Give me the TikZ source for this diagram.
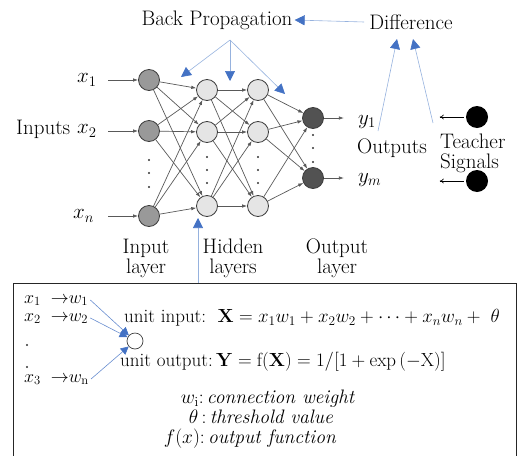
\RequirePackage{fix-cm}
\documentclass[tikz,border=0pt]{standalone}
\usepackage{amsmath}
\usetikzlibrary{arrows.meta,calc}
\definecolor{bpblue}{RGB}{68,114,196}
\definecolor{bpline}{RGB}{150,178,222}
\definecolor{ringgray}{RGB}{60,60,60}
\tikzset{
    neuron/.style={circle,draw=ringgray,line width=0.8pt,minimum size=21pt,inner sep=0pt},
    inunit/.style={neuron,fill=black!40},
    hidunit/.style={neuron,fill=black!10},
    outunit/.style={neuron,fill=black!68},
    link/.style={-{Latex[length=5pt,width=3.5pt]},draw=black!65,line width=0.7pt},
    bpvec/.style={-{Triangle[length=10pt,width=10pt,color=bpblue]},draw=bpline,line width=0.6pt},
    smallvec/.style={-{Triangle[length=8pt,width=8pt,color=bpblue]},draw=bpblue!80,line width=0.6pt},
    teachdot/.style={circle,fill=black,minimum size=22pt,inner sep=0pt},
    lbl/.style={font=\fontsize{21}{20}\selectfont,align=center,inner sep=0pt},
    boxtxt/.style={font=\fontsize{19}{18}\selectfont,inner sep=0pt,text height=10pt,text depth=3pt},
    wtxt/.style={font=\fontsize{18}{18}\selectfont,inner sep=0pt,text height=9pt,text depth=3pt},
    notetxt/.style={font=\fontsize{19.5}{18}\selectfont,inner sep=0pt,text height=11pt,text depth=4pt},
    dotmark/.style={fill=black!80}
}

\begin{document}
\begin{tikzpicture}[x=1pt,y=-1pt]
    \useasboundingbox (0,0) rectangle (518,455);
    \clip (0,0) rectangle (518,455);
    % Layers
    \node[inunit] (i1) at (149,80) {};
    \node[inunit] (i2) at (149,131) {};
    \node[inunit] (i3) at (149,216) {};
    \foreach \n/\y in {1/90,2/132,3/206}{
        \node[hidunit] (h\n) at (207,\y) {};
        \node[hidunit] (g\n) at (258,\y) {};
    }
    \node[outunit] (o1) at (313,118) {};
    \node[outunit] (o2) at (313,178) {};
    % Connections
    \foreach \a in {1,2,3}{
        \foreach \b in {1,2,3}{
            \draw[link] (i\a) -- (h\b);
            \draw[link] (h\a) -- (g\b);
        }
        \foreach \b in {1,2}
            \draw[link] (g\a) -- (o\b);
    }
    % Vertical dots
    \foreach \y in {160,173,187} \fill[dotmark] (149,\y) circle (1.1);
    \foreach \y in {157,170,183}{
        \fill[dotmark] (207,\y) circle (1.1);
        \fill[dotmark] (258,\y) circle (1.1);
    }
    \foreach \y in {135,148,162} \fill[dotmark] (313,\y) circle (1.1);
    % Inputs
    \node[lbl,anchor=west] (inputs) at (16,129) {Inputs};
    \node[lbl,anchor=west] (x1) at (77,80) {$x_1$};
    \node[lbl,anchor=west] (x2) at (77,131) {$x_2$};
    \node[lbl,anchor=west] (xn) at (73,216) {$x_n$};
    \foreach \k in {1,2,3}
        \draw[link] ([xshift=-30pt]i\k.west) -- (i\k);
    % Outputs
    \node[lbl,anchor=west] (y1) at (358,122) {$y_1$};
    \node[lbl,anchor=west] (ym) at (358,180) {$y_m$};
    \node[lbl,anchor=west] (outputs) at (357,148) {Outputs};
    \draw[link] (o1) -- ([xshift=20pt]o1.east);
    \draw[link] (o2) -- ([xshift=20pt]o2.east);
    % Teacher signals
    \node[teachdot] (t1) at (477,117) {};
    \node[teachdot] (t2) at (477,181) {};
    \node[lbl,anchor=west,align=left] (tsig) at (440,153) {Teacher\\Signals};
    \draw[-{To[length=4pt,width=5pt]},line width=0.6pt] ([xshift=-2pt]t1.west) -- ([xshift=-26pt]t1.west);
    \draw[-{To[length=4pt,width=5pt]},line width=0.6pt] ([xshift=-2pt]t2.west) -- ([xshift=-26pt]t2.west);
    % Layer names
    \node[lbl] (inlayer) at (146,258) {Input\\layer};
    \node[lbl] (hidlayer) at (233,258) {Hidden\\layers};
    \node[lbl] (outlayer) at (337,258) {Output\\layer};
    % Back propagation
    \node[lbl] (bp) at (217,20) {Back Propagation};
    \node[lbl] (diff) at (411,22) {Difference};
    \draw[bpvec] ([xshift=-5pt]diff.west) -- ([xshift=2pt]bp.east);
    \coordinate (bpsrc) at (230,40);
    \coordinate (bpa) at (181,77);
    \coordinate (bpb) at (230,81);
    \coordinate (bpc) at (285,94);
    \foreach \t in {bpa,bpb,bpc}
        \draw[bpvec] (bpsrc) -- (\t);
    \coordinate (dfa) at (397,39);
    \coordinate (dfb) at (413,39);
    \coordinate (tsrc) at (433,123);
    \draw[bpvec] ([shift={(20pt,-9pt)}]y1.west) -- (dfa);
    \draw[bpvec] (tsrc) -- (dfb);
    \coordinate (fbsrc) at (198,283);
    \coordinate (fbtip) at (198,218);
    \draw[bpvec] (fbsrc) -- (fbtip);
    % Unit box
    \draw[line width=0.8pt,draw=black!85] (13,283) rectangle (516,475);
    \node[wtxt,anchor=west] (bw1) at (24,300) {$x_1\;\;{\rightarrow}w_1$};
    \node[wtxt,anchor=west] (bw2) at (24,318) {$x_2\;\;{\rightarrow}w_2$};
    \node[wtxt,anchor=west] (bwn) at (24,379) {$x_3\;\;{\rightarrow}w_\mathrm{n}$};
    \fill[dotmark] (27,345) circle (1.2);
    \fill[dotmark] (27,367) circle (1.2);
    \node[circle,draw=black!75,line width=0.7pt,minimum size=16pt,inner sep=0pt] (unit) at (135,341) {};
    \draw[smallvec] ([xshift=2pt]bw1.east) -- (unit);
    \draw[smallvec] ([xshift=2pt]bw2.east) -- (unit);
    \draw[smallvec] ([xshift=2pt]bwn.east) -- (unit);
    \node[boxtxt,anchor=west] (uin) at (124,319) {unit input:\ \ $\mathbf{X} = x_1w_1 + x_2w_2 + \cdots + x_nw_n +\ \theta$};
    \node[boxtxt,anchor=west] (uout) at (120,363) {unit output:\,$\mathbf{Y} = \mathrm{f}(\mathbf{X}) = 1/[1 + \exp{(-\mathrm{X})}]$};
    \node[notetxt] (note1) at (268,400) {$w_\mathrm{i}$:\,\textit{connection weight}};
    \node[notetxt] (note2) at (261,420) {$\theta$\,:\,\textit{threshold value}};
    \node[notetxt] (note3) at (250,440) {$f(x)$:\,\textit{output function}};
\end{tikzpicture}
\end{document}
